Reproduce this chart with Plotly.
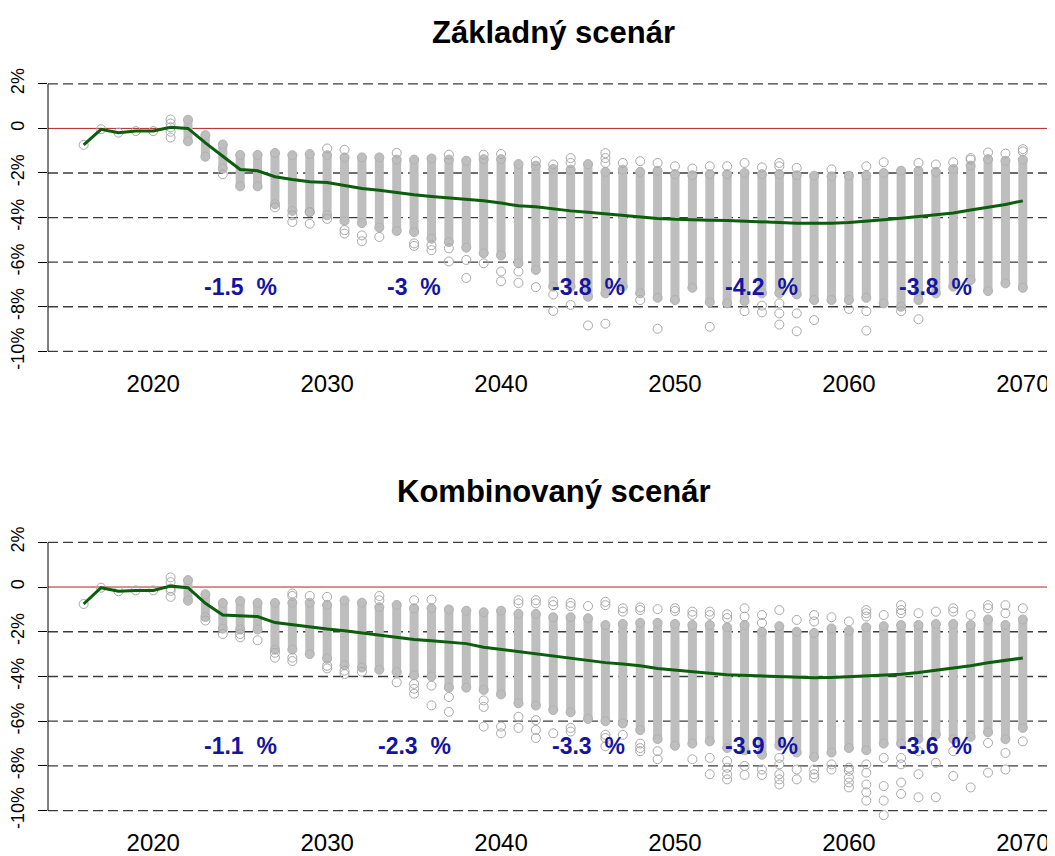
import plotly.graph_objects as go

# ----------------------------------------
# data (values in %)
# ----------------------------------------
years = list(range(2016, 2071))
band_years = list(range(2022, 2071))

median_a = [-0.74, -0.04, -0.19, -0.12, -0.12,
            0.05, 0.00, -0.65, -1.25, -1.84, -1.90, -2.17, -2.29, -2.39, -2.43,
            -2.58, -2.70, -2.77, -2.88, -2.98, -3.05, -3.12, -3.17, -3.25, -3.35,
            -3.47, -3.51, -3.61, -3.70, -3.76, -3.83, -3.92, -3.98, -4.04, -4.08,
            -4.11, -4.12, -4.13, -4.15, -4.18, -4.22, -4.25, -4.26, -4.25, -4.22,
            -4.17, -4.10, -4.03, -3.96, -3.88, -3.79, -3.66, -3.54, -3.41, -3.25]

median_b = [-0.76, -0.03, -0.19, -0.15, -0.15,
            0.04, -0.03, -0.73, -1.25, -1.28, -1.32, -1.59, -1.69, -1.79, -1.88,
            -1.95, -2.05, -2.17, -2.25, -2.35, -2.40, -2.46, -2.53, -2.69, -2.79,
            -2.89, -3.01, -3.11, -3.20, -3.29, -3.38, -3.44, -3.52, -3.64, -3.72,
            -3.79, -3.85, -3.92, -3.95, -3.97, -3.99, -4.01, -4.06, -4.04, -4.01,
            -3.98, -3.96, -3.90, -3.82, -3.72, -3.63, -3.52, -3.39, -3.27, -3.17]

# dense part of the simulated values, 2022-2070
band_hi_a = [0.39, -0.30, -0.72, -1.19, -1.19, -1.10, -1.20, -1.15, -1.20,
             -1.30, -1.30, -1.30, -1.40, -1.40, -1.35, -1.40, -1.45, -1.38, -1.38,
             -1.60, -1.67, -1.82, -1.85, -1.60, -1.95, -1.85, -1.95, -1.90, -2.05,
             -2.10, -2.05, -2.05, -2.00, -2.05, -2.05, -2.10, -2.12, -2.15, -2.12,
             -2.10, -2.00, -1.90, -1.90, -1.95, -1.82, -1.67, -1.38, -1.45, -1.40]
band_lo_a = [-0.58, -1.27, -1.80, -2.60, -2.60, -3.40, -3.70, -3.75, -3.90,
             -4.15, -4.25, -4.45, -4.60, -4.65, -4.95, -5.10, -5.35, -5.60, -5.70,
             -6.05, -6.35, -7.10, -7.10, -7.55, -7.40, -7.10, -7.40, -7.60, -7.70,
             -7.15, -7.80, -7.85, -7.75, -7.40, -7.40, -7.45, -7.70, -7.70, -7.70,
             -7.60, -7.85, -8.00, -7.70, -7.40, -7.10, -6.80, -7.30, -6.95, -7.15]

band_hi_b = [0.31, -0.32, -0.71, -0.62, -0.71, -0.71, -0.70, -0.70, -0.80,
             -0.60, -0.70, -0.90, -0.80, -0.95, -0.95, -1.00, -1.06, -1.13, -1.06,
             -1.20, -1.20, -1.35, -1.35, -1.40, -1.70, -1.65, -1.60, -1.60, -1.65,
             -1.70, -1.70, -1.80, -1.70, -2.00, -1.75, -2.00, -2.05, -1.85, -1.95,
             -1.80, -1.75, -1.70, -1.70, -1.65, -1.65, -1.70, -1.45, -1.70, -1.45]
band_lo_b = [-0.61, -1.34, -1.86, -1.90, -1.90, -2.80, -2.80, -3.00, -3.20,
             -3.50, -3.60, -3.70, -3.80, -3.95, -4.00, -4.50, -4.50, -4.60, -4.80,
             -5.20, -5.30, -5.50, -5.60, -5.90, -6.00, -6.10, -6.40, -6.80, -7.10,
             -7.00, -6.90, -7.20, -7.30, -7.50, -7.10, -7.40, -7.60, -7.40, -7.20,
             -7.30, -7.00, -7.00, -6.80, -6.60, -6.80, -6.70, -6.50, -6.80, -6.30]

# single circles outside the dense part
out_x_a = [2016, 2017, 2018, 2019, 2020,
           2021, 2021, 2021, 2021, 2021, 2024, 2027, 2028, 2028, 2029, 2029,
           2030, 2030, 2031, 2031, 2031, 2032, 2032, 2033, 2034, 2035, 2035,
           2036, 2036, 2037, 2037, 2037, 2038, 2038, 2039, 2039, 2040, 2040, 2040,
           2041, 2041, 2042, 2042, 2043, 2043, 2043, 2044, 2044, 2044, 2045,
           2046, 2046, 2046, 2046, 2047, 2048, 2048, 2049, 2049, 2050, 2051,
           2052, 2052, 2053, 2054, 2054, 2055, 2055, 2055, 2056, 2056, 2056,
           2056, 2056, 2057, 2057, 2057, 2058, 2059, 2060, 2061, 2061, 2061,
           2062, 2063, 2064, 2064, 2065, 2066, 2067, 2067, 2068, 2069, 2070, 2070]
out_y_a = [-0.74, -0.04, -0.19, -0.12, -0.12,
           0.40, 0.22, 0.05, -0.15, -0.41, -2.06, -3.54, -3.90, -4.20, -3.76, -4.28,
           -0.90, -4.06, -0.96, -4.56, -4.72, -4.80, -5.06, -4.87, -1.10, -5.16, -5.27,
           -5.24, -5.46, -1.18, -5.38, -5.97, -5.90, -6.71, -1.18, -6.05, -1.15, -6.42, -6.86,
           -6.42, -6.93, -1.47, -7.12, -1.62, -7.45, -8.19, -1.33, -1.55, -7.92, -8.84,
           -1.11, -1.33, -1.55, -8.76, -1.55, -1.47, -7.70, -1.55, -8.99, -1.70, -1.80,
           -1.70, -8.90, -1.70, -1.55, -8.20, -1.75, -7.95, -8.25, -1.55, -1.70, -7.85,
           -8.30, -8.80, -1.77, -8.30, -9.10, -8.60, -1.84, -8.10, -1.70, -8.20, -9.07,
           -1.52, -8.20, -1.55, -8.56, -1.62, -1.52, -1.33, -1.40, -1.08, -1.13, -0.93, -1.03]

out_x_b = [2016, 2017, 2018, 2019, 2020,
           2021, 2021, 2021, 2021, 2021, 2023, 2024, 2025, 2025, 2026, 2027, 2027,
           2028, 2028, 2028, 2028, 2029, 2030, 2030, 2030, 2031, 2031, 2032,
           2033, 2033, 2034, 2035, 2035, 2035, 2035, 2036, 2036, 2036, 2037, 2037,
           2039, 2039, 2039, 2040, 2040, 2041, 2041, 2041, 2041,
           2042, 2042, 2042, 2042, 2042, 2043, 2043, 2043, 2044, 2044, 2044, 2044,
           2045, 2046, 2046, 2046, 2046, 2046, 2047, 2047, 2047,
           2048, 2048, 2048, 2048, 2048, 2049, 2049, 2049, 2050, 2050,
           2051, 2051, 2051, 2052, 2052, 2052, 2052,
           2053, 2053, 2053, 2053, 2053, 2053, 2054, 2054, 2054, 2054,
           2055, 2055, 2055, 2055, 2056, 2056, 2056, 2056, 2056, 2056,
           2057, 2057, 2057, 2058, 2058, 2058, 2058, 2058, 2059, 2059, 2059,
           2060, 2060, 2060, 2060, 2060, 2060, 2061, 2061, 2061, 2061, 2061, 2061, 2061, 2061,
           2062, 2062, 2062, 2062, 2062, 2063, 2063, 2063, 2063, 2063, 2063, 2063,
           2064, 2064, 2064, 2064, 2065, 2065, 2065, 2066, 2066, 2066, 2066,
           2067, 2067, 2068, 2068, 2068, 2068, 2069, 2069, 2069, 2069, 2070, 2070]
out_y_b = [-0.76, -0.03, -0.19, -0.15, -0.15,
           0.43, 0.22, -0.07, -0.17, -0.44, -1.50, -2.10, -2.10, -2.25, -2.38, -2.94, -3.16,
           -0.29, -0.40, -3.16, -3.31, -0.40, -0.44, -3.52, -3.64, -3.74, -3.89, -3.79,
           -0.40, -0.59, -4.26, -0.59, -4.33, -4.55, -4.77, -0.56, -4.41, -5.29, -4.92, -5.58,
           -5.07, -5.36, -6.24, -6.24, -6.54, -0.59, -0.73, -5.80, -6.30,
           -0.59, -0.73, -5.95, -6.39, -6.75, -0.64, -0.81, -6.54, -0.71, -0.85, -6.30, -6.46,
           -0.85, -0.66, -0.81, -6.61, -6.75, -7.12, -0.95, -1.10, -6.61,
           -0.91, -1.03, -7.00, -7.20, -7.34, -0.99, -7.34, -7.70, -0.95, -1.07,
           -1.10, -1.25, -7.70, -1.10, -1.25, -7.64, -8.37,
           -1.22, -1.39, -7.78, -8.08, -8.37, -8.60, -0.95, -1.32, -8.00, -8.40,
           -1.25, -1.61, -8.16, -8.40, -1.03, -7.64, -7.93, -8.37, -8.60, -8.83,
           -1.47, -8.16, -8.60, -1.25, -1.54, -8.16, -8.37, -8.52, -1.35, -7.93, -8.16,
           -1.54, -8.08, -8.22, -8.52, -8.74, -8.96, -1.03, -1.17, -1.32, -7.93, -8.30, -8.83, -9.18, -9.55,
           -1.25, -7.64, -8.90, -9.55, -10.20, -0.81, -1.03, -1.17, -7.64, -7.93, -8.74, -9.25,
           -1.17, -7.34, -8.37, -9.40, -1.10, -7.86, -9.40, -0.95, -1.10, -7.34, -8.45,
           -1.25, -8.96, -0.81, -0.95, -6.97, -8.30, -0.81, -1.17, -7.42, -8.16, -0.95, -6.90]

decade_x = [2025, 2035, 2045, 2055, 2065]
decade_a = ['-1.5', '-3', '-3.8', '-4.2', '-3.8']
decade_b = ['-1.1', '-2.3', '-3.3', '-3.9', '-3.6']

titles = ['Základný scenár', 'Kombinovaný scenár']
y_ticks = [2, 0, -2, -4, -6, -8, -10]
y_ticktext = ['2%', '0', '-2%', '-4%', '-6%', '-8%', '-10%']
x_ticks = [2020, 2030, 2040, 2050, 2060, 2070]

FONT = 'Liberation Sans, Arial, sans-serif'
GREY = '#bebebe'

fig = go.Figure()

panels = [
    ('x', 'y', median_a, band_hi_a, band_lo_a, out_x_a, out_y_a, decade_a),
    ('x2', 'y2', median_b, band_hi_b, band_lo_b, out_x_b, out_y_b, decade_b),
]

for xa, ya, med, hi, lo, ox, oy, dec in panels:
    # vertical grey columns
    seg_x, seg_y = [], []
    for yr, h, l in zip(band_years, hi, lo):
        seg_x += [yr, yr, None]
        seg_y += [h, l, None]
    fig.add_trace(go.Scatter(x=seg_x, y=seg_y, mode='lines', xaxis=xa, yaxis=ya,
                             line=dict(color=GREY, width=9), hoverinfo='skip',
                             showlegend=False))
    fig.add_trace(go.Scatter(x=band_years + band_years, y=hi + lo, mode='markers',
                             xaxis=xa, yaxis=ya, hoverinfo='skip', showlegend=False,
                             marker=dict(symbol='circle', size=9, color=GREY,
                                         line=dict(color='#b2b2b2', width=1))))
    fig.add_trace(go.Scatter(x=ox, y=oy, mode='markers', xaxis=xa, yaxis=ya,
                             showlegend=False,
                             marker=dict(symbol='circle-open', size=9,
                                         color='#a9a9a9', line=dict(width=1))))
    fig.add_trace(go.Scatter(x=years, y=med, mode='lines', xaxis=xa, yaxis=ya,
                             showlegend=False,
                             line=dict(color='#0b5e0b', width=3)))

    # reference lines
    for h in [2, -2, -4, -6, -8, -10]:
        fig.add_shape(type='line', xref=f'{xa} domain', yref=ya, x0=0, x1=1, y0=h, y1=h,
                      line=dict(color='#3c3c3c', width=1.3, dash='10px,5px'), layer='below')
    fig.add_shape(type='line', xref=f'{xa} domain', yref=ya, x0=0, x1=1, y0=0, y1=0,
                  line=dict(color='#b22222', width=1), layer='below')
    fig.add_shape(type='line', xref=f'{xa} domain', yref=ya, x0=0, x1=0, y0=-10, y1=2,
                  line=dict(color='black', width=1))

    for xv, txt in zip(decade_x, dec):
        fig.add_annotation(x=xv, y=-7.1, xref=xa, yref=ya, text=f'<b>{txt}\u00a0\u00a0%</b>',
                           showarrow=False, xanchor='center', yanchor='middle',
                           font=dict(family=FONT, size=23, color='#1414a0'))

fig.add_annotation(x=0.502, y=0.9764, xref='paper', yref='paper', text=f'<b>{titles[0]}</b>',
                   showarrow=False, xanchor='center', yanchor='middle',
                   font=dict(family=FONT, size=31, color='black'))
fig.add_annotation(x=0.502, y=0.4281, xref='paper', yref='paper', text=f'<b>{titles[1]}</b>',
                   showarrow=False, xanchor='center', yanchor='middle',
                   font=dict(family=FONT, size=31, color='black'))

xaxis_style = dict(range=[2013.95, 2071.85], tickvals=x_ticks, showgrid=False,
                   zeroline=False, showline=False, ticks='', ticklabelstandoff=5,
                   tickfont=dict(family=FONT, size=24, color='black'))
yaxis_style = dict(range=[-10.48, 2.48], tickvals=y_ticks, ticktext=y_ticktext,
                   tickangle=-90, showgrid=False, zeroline=False, showline=False,
                   ticks='outside', ticklen=9, tickcolor='black', tickwidth=1,
                   ticklabelstandoff=7,
                   tickfont=dict(family=FONT, size=18, color='black'))

# the page puts the figure 8px from its top-left corner
fig.update_layout(
    width=1047, height=848,
    margin=dict(l=40, r=0, t=0, b=0),
    paper_bgcolor='white', plot_bgcolor='white',
    xaxis=dict(domain=[0, 1], anchor='y', **xaxis_style),
    yaxis=dict(domain=[0.5825, 0.9281], anchor='x', **yaxis_style),
    xaxis2=dict(domain=[0, 1], anchor='y2', **xaxis_style),
    yaxis2=dict(domain=[0.0330, 0.3797], anchor='x2', **yaxis_style),
    font=dict(family=FONT),
)

fig.write_html('out.html')
